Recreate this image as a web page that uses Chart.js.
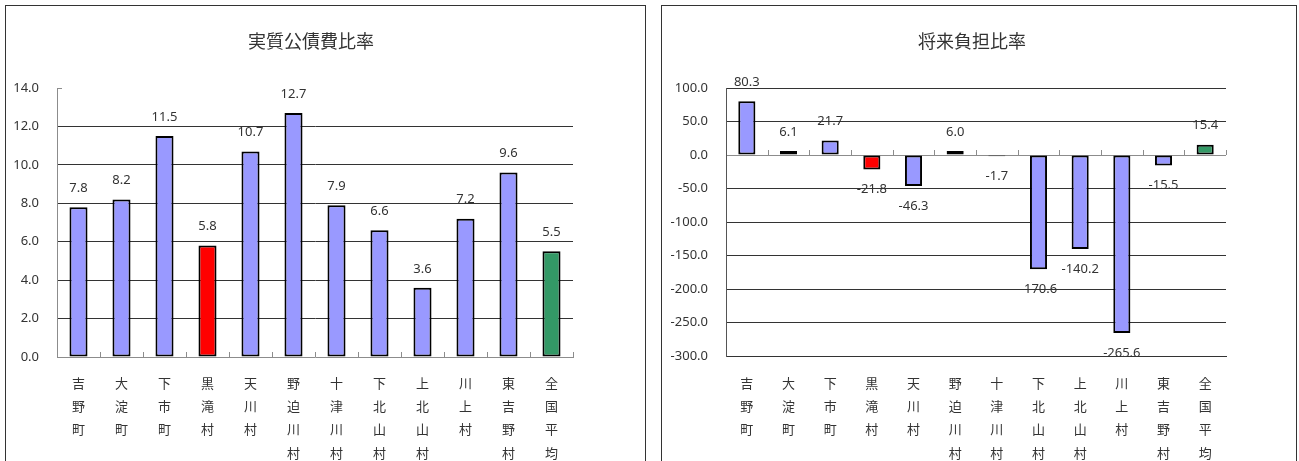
<!DOCTYPE html>
<html>
<head>
<meta charset="utf-8">
<script src="https://cdn.jsdelivr.net/npm/chart.js@4"></script>
<style>
  html, body { margin: 0; padding: 0; background: #fff; width: 1299px; height: 461px; overflow: hidden; }
  .panel { position: absolute; top: 5px; height: 470px; border: 1px solid #333; box-sizing: border-box; background: #fff; }
  #p1 { left: 5px; width: 641px; }
  #p2 { left: 661px; width: 636px; }
  canvas { position: absolute; left: 0; top: 0; }
</style>
</head>
<body>
<div class="panel" id="p1"><canvas id="c1" width="639" height="468"></canvas></div>
<div class="panel" id="p2"><canvas id="c2" width="634" height="468"></canvas></div>
<script>
const categories = ['吉野町', '大淀町', '下市町', '黒滝村', '天川村', '野迫川村', '十津川村', '下北山村', '上北山村', '川上村', '東吉野村', '全国平均'];
const realDebtRatio = [7.8, 8.2, 11.5, 5.8, 10.7, 12.7, 7.9, 6.6, 3.6, 7.2, 9.6, 5.5];
const futureBurdenRatio = [80.3, 6.1, 21.7, -21.8, -46.3, 6.0, -1.7, -170.6, -140.2, -265.6, -15.5, 15.4];
const title1 = '実質公債費比率';
const title2 = '将来負担比率';
const barColors = ['#9999FF', '#9999FF', '#9999FF', '#FF0000', '#9999FF', '#9999FF', '#9999FF', '#9999FF', '#9999FF', '#9999FF', '#9999FF', '#339966'];

const FONT = "'Noto Sans', 'Noto Sans CJK JP', sans-serif";
const CJK = "'Noto Sans CJK JP', sans-serif";
const TXT = '#333333';

const verticalLabels = categories.map(s => Array.from(s));

const decorPlugin = {
  id: 'decor',
  afterDatasetsDraw(chart, args, opts) {
    const ctx = chart.ctx;
    const ca = chart.chartArea;
    const x = chart.scales.x, y = chart.scales.y;
    const y0 = y.getPixelForValue(0);
    const step = x.getPixelForValue(1) - x.getPixelForValue(0);
    ctx.save();
    ctx.strokeStyle = opts.tickColor;
    ctx.lineWidth = 1;
    for (let i = 1; i <= categories.length; i++) {
      const px = Math.round(x.getPixelForValue(i) - step / 2) + 0.5;
      ctx.beginPath();
      ctx.moveTo(px, y0);
      ctx.lineTo(px, y0 - 5);
      ctx.stroke();
    }
    if (opts.topTick) {
      const yt = Math.round(y.getPixelForValue(y.max)) + 0.5;
      ctx.beginPath();
      ctx.moveTo(ca.left, yt);
      ctx.lineTo(ca.left + 5, yt);
      ctx.stroke();
    }
    ctx.fillStyle = TXT;
    ctx.font = '13px ' + FONT;
    ctx.textAlign = 'center';
    ctx.textBaseline = 'middle';
    const meta = chart.getDatasetMeta(0);
    const data = chart.data.datasets[0].data;
    meta.data.forEach((bar, i) => {
      const v = data[i];
      const ty = v >= 0 ? bar.y - 19 : bar.y + 20;
      ctx.fillText(v.toFixed(1), bar.x, ty);
    });
    ctx.font = '18px ' + CJK;
    ctx.fillText(opts.title, (ca.left + ca.right) / 2 - 4, 35);
    ctx.restore();
  }
};

function makeChart(id, values, cfg) {
  const canvas = document.getElementById(id);
  const W = canvas.width, H = canvas.height;
  return new Chart(canvas, {
    type: 'bar',
    data: {
      labels: verticalLabels,
      datasets: [{
        data: values,
        backgroundColor: barColors,
        borderColor: '#000',
        borderWidth: 2,
        borderSkipped: false,
        categoryPercentage: 1.0,
        barPercentage: cfg.barPct
      }]
    },
    options: {
      responsive: false,
      animation: false,
      devicePixelRatio: 1,
      layout: { padding: { top: cfg.top, right: W - cfg.right, left: 0, bottom: 0 } },
      plugins: {
        legend: { display: false },
        tooltip: { enabled: false },
        decor: { tickColor: cfg.zeroColor, title: cfg.title, topTick: cfg.topTick }
      },
      scales: {
        x: {
          offset: true,
          grid: { display: false, drawTicks: false },
          border: { display: true, color: cfg.bottomColor, width: 1 },
          ticks: {
            autoSkip: false, maxRotation: 0, minRotation: 0,
            padding: cfg.labelPad, color: TXT,
            font: { family: CJK, size: 13, lineHeight: 1.8 }
          },
          afterFit(scale) { scale.height = H - cfg.bottom; }
        },
        y: {
          min: cfg.min, max: cfg.max,
          ticks: {
            stepSize: cfg.step, padding: cfg.tickPad, color: TXT,
            font: { family: FONT, size: 13 },
            callback: v => v.toFixed(1)
          },
          grid: {
            drawTicks: false,
            lineWidth: 1,
            color: c => {
              const v = c.tick.value;
              if (cfg.hideMaxGrid && v === cfg.max) return 'rgba(0,0,0,0)';
              if (v === cfg.min) return 'rgba(0,0,0,0)';
              if (v === 0) return cfg.zeroColor;
              return '#333333';
            }
          },
          border: { display: true, color: cfg.leftColor, width: 1 },
          afterFit(scale) { scale.width = cfg.axisX; }
        }
      }
    },
    plugins: [decorPlugin]
  });
}

makeChart('c1', realDebtRatio, {
  title: title1, axisX: 51, right: 567, top: 82, bottom: 351,
  min: 0, max: 14, step: 2, hideMaxGrid: true, topTick: true,
  zeroColor: '#8c8c8c', bottomColor: '#8c8c8c', leftColor: '#8c8c8c',
  barPct: 0.42, tickPad: 18, labelPad: 14
});

makeChart('c2', futureBurdenRatio, {
  title: title2, axisX: 64, right: 564, top: 82, bottom: 350,
  min: -300, max: 100, step: 50, hideMaxGrid: false, topTick: false,
  zeroColor: '#8c8c8c', bottomColor: '#333333', leftColor: '#555555',
  barPct: 0.41, tickPad: 18, labelPad: 15
});
</script>
</body>
</html>
